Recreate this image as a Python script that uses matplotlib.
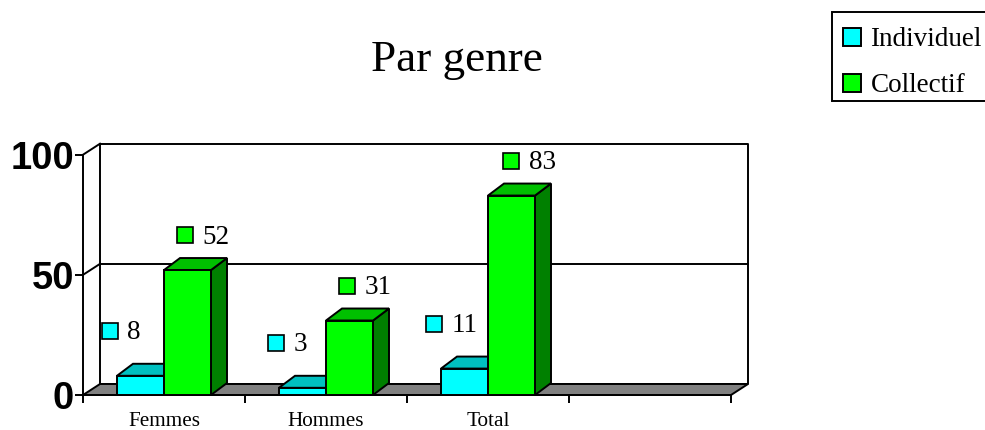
import matplotlib
matplotlib.use("Agg")
import matplotlib.pyplot as plt
from matplotlib.patches import Polygon, Patch, Rectangle
from matplotlib.transforms import offset_copy

categories = ["Femmes", "Hommes", "Total", ""]
individuel = [8, 3, 11]
collectif = [52, 31, 83]
y_ticks = [0, 50, 100]
series_names = ["Individuel", "Collectif"]

W, H = 985, 430
L, R, B, T = 83, 731, 395, 154.7
SERIF = "Liberation Serif"
SANS = "Liberation Sans"
LW = 1.4
IND_LABEL_DX = [-31, -27, -31]
COL_LABEL_DX = [-3, -3, -1]

fig = plt.figure(figsize=(W / 100, H / 100), dpi=100)
ax = fig.add_axes([L / W, 1 - B / H, (R - L) / W, (B - T) / H])
ax.set_xlim(0, len(categories))
ax.set_ylim(0, 100)
ax.patch.set_alpha(0)
for s in ("top", "right"):
    ax.spines[s].set_visible(False)
for s in ("left", "bottom"):
    ax.spines[s].set_linewidth(LW)

dx = 17 / ((R - L) / len(categories))
dy = 11 / ((B - T) / 100)
dx_bar = 16 / ((R - L) / len(categories))
dy_bar = 12 / ((B - T) / 100)
nx = len(categories)
top = y_ticks[-1]


def poly(pts, fc, z):
    ax.add_patch(Polygon(pts, closed=True, fc=fc, ec="black", lw=LW,
                         clip_on=False, zorder=z, joinstyle="miter"))


def line(xs, ys, z=1):
    ax.plot(xs, ys, color="black", lw=LW, clip_on=False, zorder=z,
            solid_capstyle="projecting")


# walls and gridlines
line([dx, nx + dx, nx + dx, dx, dx], [dy + top, dy + top, dy, dy, dy + top])
line([0, dx], [top, top + dy])
for v in y_ticks[1:-1]:
    line([0, dx], [v, v + dy])
    line([dx, nx + dx], [v + dy, v + dy])
poly([(0, 0), (dx, dy), (nx + dx, dy), (nx, 0)], "#808080", 2)


def bar3d(x0, x1, v, front, topc, side, z):
    poly([(x1, 0), (x1 + dx_bar, dy_bar), (x1 + dx_bar, v + dy_bar), (x1, v)], side, z)
    poly([(x0, v), (x0 + dx_bar, v + dy_bar), (x1 + dx_bar, v + dy_bar), (x1, v)], topc, z)
    poly([(x0, 0), (x1, 0), (x1, v), (x0, v)], front, z + 0.1)


bw = 47 / ((R - L) / len(categories))
CYAN, CYAN_TOP, CYAN_SIDE = "#00FFFF", "#00C0C0", "#008080"
GREEN, GREEN_TOP, GREEN_SIDE = "#00FF00", "#00C000", "#008000"


def label(xc, v, fg, mx, my, tx):
    mt = offset_copy(ax.transData, fig=fig, x=mx, y=my, units="dots")
    ax.plot([xc], [v], marker="s", ms=11, mfc=fg, mec="black", mew=1.2,
            transform=mt, clip_on=False, zorder=20)
    ax.annotate(str(v), (xc, v), xytext=(mx + tx, my - 2), textcoords="offset pixels",
                fontsize=19.5, family=SERIF, va="center", ha="left", zorder=20,
                annotation_clip=False)


for i in range(len(individuel)):
    c = i + 0.5
    z = 3 + i
    bar3d(c - bw, c, individuel[i], CYAN, CYAN_TOP, CYAN_SIDE, z)
    bar3d(c, c + bw, collectif[i], GREEN, GREEN_TOP, GREEN_SIDE, z + 0.3)
    label(c - bw / 2, individuel[i], CYAN, IND_LABEL_DX[i], 45, 18)
    label(c + bw / 2, collectif[i], GREEN, COL_LABEL_DX[i], 35, 18)

ax.set_xticks(range(nx + 1))
ax.set_xticklabels([])
ax.set_xticks([i + 0.5 for i in range(nx)], minor=True)
ax.set_xticklabels(categories, minor=True, fontsize=15.3, family=SERIF)
ax.tick_params(axis="x", which="major", length=5.5, width=LW)
ax.tick_params(axis="x", which="minor", length=0, pad=12.5)
ax.set_yticks(y_ticks)
ax.set_yticklabels([str(v) for v in y_ticks], fontsize=27.5, family=SANS, fontweight="bold")
ax.tick_params(axis="y", length=5.5, width=LW, pad=0.8)

fig.text(457 / W, 1 - 60 / H, "Par genre", fontsize=32.5, family=SERIF, ha="center", va="center")

fig.add_artist(Rectangle((832 / W, 1 - 101 / H), (W + 5 - 832) / W, 89 / H,
                         transform=fig.transFigure, fc="white", ec="black", lw=LW))
handles = [Patch(fc=CYAN, ec="black", lw=LW), Patch(fc=GREEN, ec="black", lw=LW)]
leg = fig.legend(handles, series_names, loc="upper left",
                 bbox_to_anchor=(831.5 / W, 1 - 16 / H), borderaxespad=0,
                 prop={"family": SERIF, "size": 19.5}, frameon=False,
                 handlelength=0.68, handleheight=0.68,
                 handletextpad=0.34, borderpad=0.42, labelspacing=0.78)

fig.savefig("out.png", dpi=100)
